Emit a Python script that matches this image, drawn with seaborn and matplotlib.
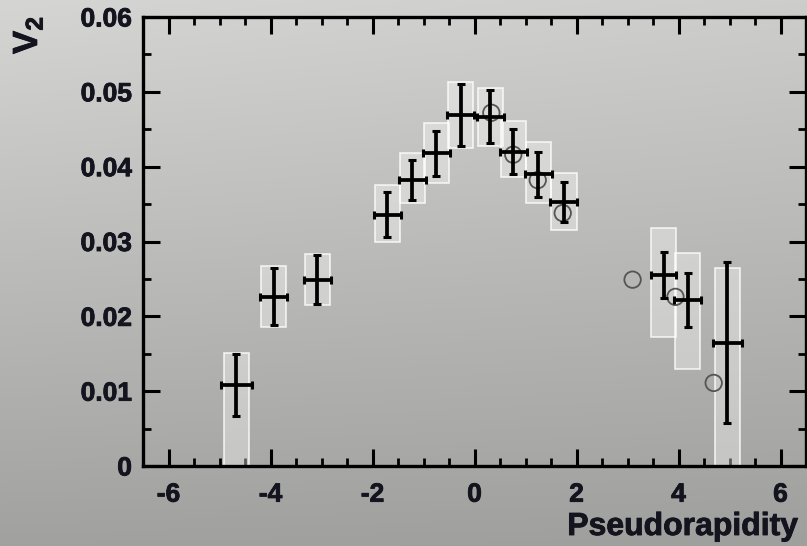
import numpy as np
import pandas as pd
import matplotlib
matplotlib.use("Agg")
import matplotlib.pyplot as plt
import matplotlib.patheffects as pe
from matplotlib.ticker import MultipleLocator, FixedLocator, FuncFormatter
import seaborn as sns

# ---- data ----
eta = [-4.67, -3.94, -3.08, -1.71, -1.22, -0.75, -0.27, 0.31, 0.76, 1.25, 1.75, 3.71, 4.18, 4.96]
v2 = [0.0108, 0.0226, 0.0249, 0.0336, 0.0382, 0.0418, 0.0469, 0.0467, 0.0420, 0.0390, 0.0353, 0.0255, 0.0222, 0.0165]
v2_err = [0.0041, 0.0038, 0.0033, 0.0030, 0.0027, 0.0030, 0.0042, 0.0036, 0.0030, 0.0030, 0.0027, 0.0031, 0.0036, 0.0108]
eta_err = [0.30, 0.27, 0.26, 0.26, 0.26, 0.26, 0.26, 0.26, 0.26, 0.26, 0.26, 0.25, 0.27, 0.29]
sys_lo = [0.0, 0.0186, 0.0215, 0.0300, 0.0352, 0.0378, 0.0425, 0.0427, 0.0386, 0.0352, 0.0316, 0.0173, 0.0130, 0.0]
sys_hi = [0.0151, 0.0267, 0.0283, 0.0376, 0.0418, 0.0459, 0.0513, 0.0505, 0.0461, 0.0433, 0.0392, 0.0318, 0.0285, 0.0265]

circ_eta = [0.33, 0.76, 1.24, 1.73, 3.10, 3.94, 4.69]
circ_v2 = [0.0472, 0.0416, 0.0382, 0.0338, 0.0249, 0.0226, 0.0111]

x_ticks = [-6, -4, -2, 0, 2, 4, 6]
y_ticks = [0, 0.01, 0.02, 0.03, 0.04, 0.05, 0.06]
x_label = "Pseudorapidity"

# ---- style ----
sns.set_theme(style="ticks")
plt.rcParams["font.family"] = ["Liberation Sans", "DejaVu Sans"]
plt.rcParams["font.weight"] = "bold"
plt.rcParams["mathtext.fontset"] = "custom"
plt.rcParams["mathtext.bf"] = "Liberation Sans:bold"
plt.rcParams["mathtext.rm"] = "Liberation Sans:bold"

TXT = "#14141e"
thick = [pe.withStroke(linewidth=0.6, foreground=TXT)]

W, H = 807, 546
fig = plt.figure(figsize=(W / 100, H / 100), dpi=100)

# gradient background
bg = fig.add_axes([0, 0, 1, 1], zorder=-10)
yy, xx = np.mgrid[0:1:200j, 0:1:300j]
val = (213 - 52 * yy - 8 * xx + 6 * xx * yy) / 255.0
img = np.dstack([val, val, val * 0.99])
bg.imshow(np.clip(img, 0, 1), extent=[0, 1, 0, 1], aspect="auto", origin="upper")
bg.axis("off")

ax = fig.add_axes([143 / W, 1 - 466 / H, (806 - 143) / W, (466 - 17) / H])
ax.set_facecolor("none")

df = pd.DataFrame({"eta": eta, "v2": v2, "lo": sys_lo, "hi": sys_hi})
ax.bar(df["eta"], df["hi"] - df["lo"], bottom=df["lo"], width=0.5,
       color=(1, 1, 1, 0.36), edgecolor=(1, 1, 1, 0.8), linewidth=1.2, zorder=1)

cdf = pd.DataFrame({"eta": circ_eta, "v2": circ_v2})
sns.scatterplot(data=cdf, x="eta", y="v2", ax=ax, marker="o", s=140,
                facecolor="none", edgecolor="#555555", linewidth=1.3, zorder=2)

ax.errorbar(eta, v2, yerr=v2_err, xerr=eta_err, fmt="none", ecolor="black",
            elinewidth=2.7, capsize=3.0, capthick=2.2, zorder=3)

ax.set_xlim(-6.5, 6.5)
ax.set_ylim(0, 0.06)
ax.xaxis.set_major_locator(FixedLocator(x_ticks))
ax.yaxis.set_major_locator(FixedLocator(y_ticks))
ax.xaxis.set_minor_locator(MultipleLocator(0.5))
ax.yaxis.set_minor_locator(MultipleLocator(0.005))
ax.yaxis.set_major_formatter(FuncFormatter(lambda v, p: "0" if v == 0 else f"{v:.2f}"))
ax.xaxis.set_major_formatter(FuncFormatter(lambda v, p: f"{int(v)}"))
ax.tick_params(which="both", direction="in", top=True, right=True, color="black")
ax.tick_params(which="major", length=12, width=2.2, labelsize=19, labelcolor=TXT)
ax.tick_params(which="minor", length=6, width=2.0)
ax.tick_params(axis="x", which="major", pad=12)
ax.tick_params(axis="y", which="major", pad=8)
for lab in ax.get_xticklabels() + ax.get_yticklabels():
    lab.set_fontweight("bold")
    lab.set_path_effects(thick)
for s in ax.spines.values():
    s.set_linewidth(2.4)
    s.set_color("black")
ax.set_xlabel("")
ax.set_ylabel("")

fig.text(798 / W, 1 - 527 / H, x_label, ha="right", va="center",
         fontsize=23, fontweight="bold", color=TXT, path_effects=thick)
fig.text(28 / W, 1 - 35 / H, r"$\mathbf{V}_{\mathbf{2}}$", ha="center", va="center",
         rotation=90, fontsize=25, color=TXT, path_effects=thick)

fig.savefig("out.png", dpi=100)
